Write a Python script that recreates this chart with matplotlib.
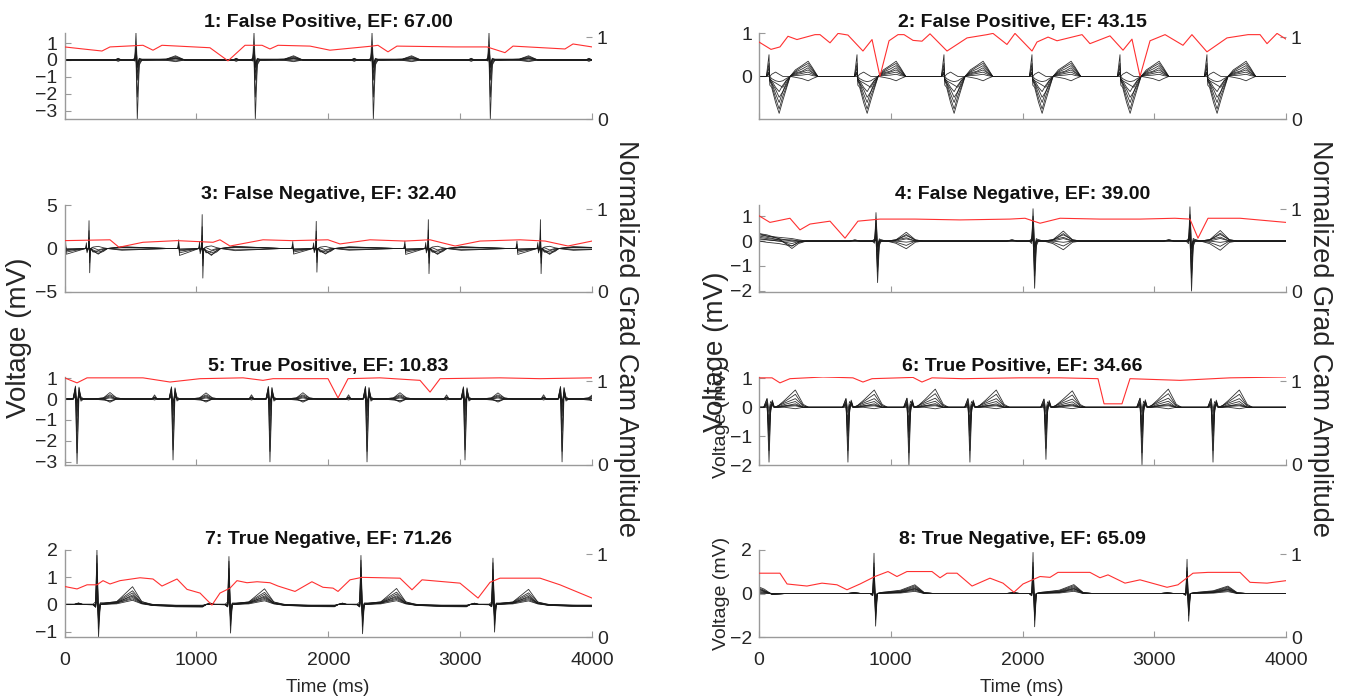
import matplotlib
matplotlib.use('Agg')
import matplotlib.pyplot as plt

plt.rcParams['font.family'] = ['Liberation Sans', 'DejaVu Sans']

# ---------------- data ----------------
titles = ['1: False Positive, EF: 67.00', '2: False Positive, EF: 43.15',
          '3: False Negative, EF: 32.40', '4: False Negative, EF: 39.00',
          '5: True Positive, EF: 10.83', '6: True Positive, EF: 34.66',
          '7: True Negative, EF: 71.26', '8: True Negative, EF: 65.09']
x_ticks = [0, 1000, 2000, 3000, 4000]
left_ylims = [(-3.5, 1.6), (-0.98, 1.0), (-5, 5), (-2.05, 1.45),
              (-3.15, 1.05), (-2.0, 1.05), (-1.2, 2.0), (-2.0, 2.0)]
left_yticks = [[-3, -2, -1, 0, 1], [0, 1], [-5, 0, 5], [-2, -1, 0, 1],
               [-3, -2, -1, 0, 1], [-2, -1, 0, 1], [-1, 0, 1, 2], [-2, 0, 2]]
right_ylim = (0, 1.05)
right_yticks = [0, 1]

# Panel 1
p1_beats = [542, 1437, 2332, 3219, 4112]
p1_scales = [1, 1, 1, 1, 1]
p1_offsets = [-160, -135, -110, -30, -10, 0, 10, 25, 45, 80, 230, 300, 370, 420]
p1_leads = [
    [0, 0.10, 0, 0, -0.05, 1.6, -0.4, 0.10, 0.05, 0.05, 0.05, 0.20, 0, 0],
    [0, 0.05, 0, 0, 0.10, 0.2, -3.5, -0.30, 0, 0, 0.03, 0.10, 0, 0],
    [0, 0.08, 0, 0, -0.05, 0.9, -0.3, 0.05, 0.02, 0.02, 0.04, 0.15, 0, 0],
    [0, -0.05, 0, 0, 0.05, 0.3, -2.2, -0.20, 0, 0, 0.05, 0.25, 0, 0],
    [0, 0.05, 0, 0, 0, 0.5, -1.2, -0.10, 0, 0, 0.02, 0.10, 0, 0],
    [0, -0.08, 0, 0, 0, 0.1, -0.8, 0, 0, 0, -0.02, -0.10, 0, 0],
    [0, 0.03, 0, 0, 0, 0.7, -0.2, 0.05, 0, 0, 0, 0.05, 0, 0],
    [0, 0.0, 0, 0, 0, 0.0, -0.5, 0, 0, 0, 0, -0.05, 0, 0]]
p1_red_t = [0, 140, 284, 345, 595, 671, 739, 1103, 1240, 1369, 1498, 1558, 1619, 1862,
            2013, 2332, 2377, 2453, 2521, 2961, 3204, 3340, 3401, 3795, 3856, 4000]
p1_red_v = [0.88, 0.855, 0.83, 0.88, 0.90, 0.84, 0.90, 0.87, 0.71, 0.90, 0.90, 0.855, 0.90, 0.89,
            0.84, 0.89, 0.90, 0.82, 0.89, 0.88, 0.88, 0.81, 0.89, 0.855, 0.916, 0.88]

# Panel 2
p2_beats = [76, 744, 1404, 2072, 2740, 3400]
p2_scales = [1, 1, 1, 1, 1, 1]
p2_offsets = [-20, 0, 6, 20, 50, 77, 105, 130, 160, 200, 250, 297, 330, 370, 420]
p2_leads = [
    [0, 0.50, -0.20, -0.25, -0.60, -0.85, -0.55, -0.30, 0.0, 0.15, 0.25, 0.35, 0.20, 0.0, 0],
    [0, 0.30, -0.10, -0.20, -0.50, -0.75, -0.45, -0.25, 0.0, 0.12, 0.22, 0.30, 0.17, 0.0, 0],
    [0, 0.20, -0.10, -0.15, -0.40, -0.60, -0.35, -0.20, 0.0, 0.10, 0.17, 0.25, 0.14, 0.0, 0],
    [0, 0.10, -0.05, -0.15, -0.30, -0.48, -0.35, -0.15, 0.0, 0.08, 0.12, 0.20, 0.10, 0.0, 0],
    [0, 0.05, -0.05, -0.10, -0.25, -0.35, -0.20, -0.10, 0.0, 0.06, 0.10, 0.15, 0.08, 0.0, 0],
    [0, 0.00, -0.05, -0.10, -0.15, -0.20, -0.25, -0.10, 0.0, 0.04, 0.07, 0.10, 0.05, 0.0, 0],
    [0, 0.10, 0.00, -0.05, -0.10, -0.12, -0.10, -0.05, 0.0, 0.02, 0.03, 0.05, 0.02, 0.0, 0],
    [0, 0.05, 0.00, 0.05, 0.10, 0.05, 0.00, 0.00, 0.0, -0.02, -0.05, -0.10, -0.05, 0.0, 0]]
p2_red_t = [0, 91, 159, 220, 288, 425, 463, 539, 600, 675, 789, 858, 918, 987, 1055, 1101,
            1169, 1237, 1298, 1427, 1579, 1731, 1776, 1882, 1943, 2072, 2110, 2194, 2262,
            2452, 2512, 2664, 2763, 2831, 2892, 2968, 3082, 3218, 3286, 3400, 3552, 3712,
            3803, 3856, 3932, 4000]
p2_red_v = [0.94, 0.85, 0.88, 1.01, 0.97, 1.03, 1.03, 0.93, 1.045, 1.025, 0.83, 0.97, 0.52,
            0.955, 1.03, 1.03, 0.96, 0.95, 1.04, 0.83, 0.99, 1.03, 1.045, 0.91, 1.045, 0.83,
            0.94, 1.0, 0.955, 1.03, 0.92, 1.015, 0.84, 0.975, 0.52, 0.955, 1.03, 0.90, 1.03,
            0.82, 0.99, 1.03, 1.03, 0.92, 1.045, 0.975]

# Panel 3
p3_beats = [186, 1044, 1909, 2759, 3609]
p3_scales = [0.82, 1.0, 0.8, 0.85, 0.85]
p3_offsets = [-185, -178, -172, -25, -20, -15, -5, 0, 5, 12, 30, 70, 110, 140, 250, 450, 600, 650]
p3_leads = [
    [0, 1.0, -0.8, 0, 0.8, -0.6, 0, 3.9, -3.4, 0, -0.2, -0.5, -0.3, 0, 0.20, 0.10, 0, 0],
    [0, 0.6, -0.5, 0, 0.5, -0.4, 0, 2.5, -2.0, 0, -0.4, -0.7, -0.4, 0, 0.15, 0.10, 0, 0],
    [0, 0.3, -0.3, 0, 0.3, -0.2, 0, 1.5, -1.2, 0, -0.3, -0.8, -0.2, 0, -0.15, -0.10, 0, 0],
    [0, 0.2, -0.2, 0, 0.2, -0.2, 0, 0.8, -1.0, 0, 0.2, 0.3, 0.1, 0, 0.25, 0.10, 0, 0],
    [0, 0.1, -0.1, 0, 0.1, -0.1, 0, 0.5, -0.5, 0, -0.5, -0.3, -0.1, 0, -0.25, -0.10, 0, 0],
    [0, 0.05, -0.05, 0, 0.05, -0.05, 0, 0.3, -0.3, 0, 0.1, -0.2, 0, 0, 0.10, 0.05, 0, 0]]
p3_red_t = [0, 345, 413, 595, 853, 1126, 1179, 1255, 1505, 1725, 1998, 2089, 2317, 2582,
            2772, 2962, 3151, 3454, 3644, 3818, 4000]
p3_red_v = [0.62, 0.63, 0.54, 0.60, 0.62, 0.60, 0.63, 0.555, 0.63, 0.62, 0.63, 0.58, 0.63,
            0.615, 0.63, 0.555, 0.615, 0.63, 0.615, 0.555, 0.615]

# Panel 4
p4_beats = [888, 2080, 3271]
p4_scales = [0.88, 1.0, 1.06]
p4_offsets = [-200, -160, -120, -30, -10, 0, 12, 25, 40, 80, 150, 230, 300, 360]
p4_leads = [
    [0, 0.05, 0, 0, -0.10, 1.3, -0.30, 0.10, 0.05, 0, 0.05, 0.25, 0.05, 0],
    [0, 0.05, 0, 0, 0.10, 0.3, -1.90, -0.20, 0, 0, -0.10, -0.35, -0.05, 0],
    [0, 0.03, 0, 0, 0, 0.8, -1.20, 0, 0.05, 0, 0.05, 0.40, 0.05, 0],
    [0, 0.02, 0, 0, 0, 0.5, -0.80, 0, 0, 0, -0.05, -0.20, 0, 0],
    [0, 0.02, 0, 0, 0, 0.2, -0.50, 0.05, 0, 0, 0.05, 0.15, 0, 0],
    [0, 0, 0, 0, 0, 1.0, -0.20, 0, 0, 0, 0.03, 0.30, 0.03, 0],
    [0, 0, 0, 0, 0, 0.1, -1.40, -0.10, 0, 0, 0, 0.10, 0, 0],
    [0, 0, 0, 0, 0, 0.05, -0.25, 0, 0, 0, 0, -0.05, 0, 0]]
p4_head_t = [0, 60, 150, 250, 300, 360]
p4_head_v = [
    [0.30, 0.25, 0.10, -0.30, -0.10, 0],
    [0.25, 0.20, 0.15, 0.10, 0.05, 0],
    [0.20, 0.15, 0.05, -0.20, -0.05, 0],
    [0.15, 0.10, 0.05, 0.05, 0, 0],
    [0.10, 0.05, 0.0, -0.10, -0.02, 0],
    [0.05, 0.05, 0.0, 0.0, 0, 0],
    [0.0, -0.05, -0.10, -0.20, -0.05, 0],
    [0.30, 0.20, 0.10, 0.0, 0, 0]]
p4_red_t = [0, 83, 235, 311, 387, 539, 653, 751, 918, 1184, 1526, 1905, 2019, 2133, 2285,
            2588, 2892, 3157, 3271, 3332, 3408, 3651, 4000]
p4_red_v = [0.92, 0.84, 0.89, 0.75, 0.82, 0.855, 0.65, 0.855, 0.88, 0.88, 0.87, 0.88, 0.89,
            0.83, 0.89, 0.88, 0.88, 0.89, 0.88, 0.65, 0.89, 0.89, 0.84]

# Panel 5
p5_beats = [95, 823, 1558, 2294, 3037, 3773]
p5_scales = [1.03, 0.97, 1.0, 1.0, 0.97, 1.0]
p5_offsets = [-160, -140, -120, -30, -12, 0, 15, 30, 50, 120, 200, 250, 300, 360]
p5_leads = [
    [0, 0.05, 0, 0, 0.30, -3.0, 0.20, 0, 0, 0, 0, -0.10, 0, 0],
    [0, 0.20, 0, 0, 0.55, -2.5, 0.50, 0, 0, 0, 0.05, 0.30, 0.05, 0],
    [0, 0.10, 0, 0, 0.50, -1.5, 0.55, 0, 0, 0, 0.05, 0.20, 0.05, 0],
    [0, 0.05, 0, 0, 0.40, -0.8, 0.30, -0.10, 0, 0, 0, -0.15, 0, 0],
    [0, -0.05, 0, 0, 0.20, -0.5, 0.20, 0, 0, 0, 0, 0.10, 0, 0],
    [0, 0.10, 0, 0, 0.10, -0.3, 0.40, 0.10, 0, 0, -0.05, -0.08, 0, 0],
    [0, 0, 0, 0, 0.60, -0.2, 0.30, 0, 0, 0, 0.03, 0.15, 0, 0],
    [0, 0.05, 0, 0, 0.15, -0.1, 0.10, 0, 0, 0, 0, 0.05, 0, 0]]
p5_red_t = [0, 95, 171, 595, 800, 1028, 1354, 1505, 1581, 1998, 2074, 2150, 2393, 2696,
            2772, 2848, 3302, 3606, 4000]
p5_red_v = [1.04, 0.98, 1.04, 1.04, 0.99, 1.03, 1.04, 1.01, 1.03, 1.03, 0.80, 1.03, 1.04,
            1.01, 0.87, 1.03, 1.04, 1.03, 1.04]

# Panel 6
p6_beats = [76, 675, 1138, 1601, 2178, 2907, 3446]
p6_scales = [1.0, 1.0, 1.05, 1.0, 0.95, 1.05, 1.0]
p6_offsets = [-40, -15, 0, 12, 25, 40, 70, 120, 200, 260, 300]
p6_leads = [
    [0, 0.20, -1.9, -0.20, 0.20, 0, 0.05, 0.25, 0.60, 0.10, 0],
    [0, 0.30, -1.5, -0.10, 0.25, 0, 0.05, 0.20, 0.45, 0.05, 0],
    [0, 0.15, -1.0, 0.0, 0.20, 0, 0.05, 0.15, 0.30, 0.05, 0],
    [0, 0.10, -0.6, 0.0, 0.10, 0, 0.02, 0.10, 0.20, 0.0, 0],
    [0, 0.05, -0.4, 0.05, 0.10, 0, 0.02, 0.05, 0.12, 0, 0],
    [0, 0.10, -0.2, 0.10, 0.05, 0, 0, 0.03, 0.05, 0, 0],
    [0, 0.30, -0.1, 0.20, 0.10, 0, 0, 0.0, -0.05, 0, 0],
    [0, 0.0, -0.8, -0.10, 0.15, 0, 0, 0.05, 0.08, 0, 0]]
p6_red_t = [0, 99, 159, 235, 486, 713, 789, 858, 1169, 1237, 1313, 1548, 1981, 2285, 2573,
            2619, 2755, 2816, 3195, 3575, 4000]
p6_red_v = [1.04, 1.04, 0.98, 1.03, 1.05, 1.04, 0.99, 1.03, 1.045, 0.99, 1.04, 1.03, 1.04,
            1.04, 1.03, 0.73, 0.73, 1.03, 1.01, 1.04, 1.05]

# Panel 7
p7_beats = [246, 1247, 2248, 3249]
p7_scales = [1.0, 0.88, 0.9, 0.85]
p7_offsets = [-170, -140, -110, -30, -10, 0, 12, 25, 60, 150, 270, 340, 420, 600, 800]
p7_leads = [
    [0, 0.05, 0, -0.02, -0.10, 2.0, -0.9, 0.05, 0.05, 0.10, 0.65, 0.10, -0.02, -0.05, -0.05],
    [0, 0.05, 0, 0, -0.05, 1.5, -0.7, 0.0, 0.05, 0.10, 0.50, 0.10, 0, -0.03, -0.03],
    [0, 0.03, 0, 0, -0.05, 1.0, -1.2, 0, 0.03, 0.08, 0.42, 0.05, 0, -0.04, -0.07],
    [0, 0.03, 0, 0, -0.10, 0.6, -0.5, 0, 0.02, 0.05, 0.35, 0.05, -0.02, -0.07, -0.08],
    [0, 0, 0, 0, 0.10, 0.3, -0.3, 0, 0, 0.05, 0.25, 0.05, -0.03, -0.06, -0.06],
    [0, 0.02, 0, 0, 0, 1.8, -0.3, 0.05, 0.05, 0.08, 0.30, 0.05, -0.04, -0.09, -0.10],
    [0, 0, 0, 0, -0.10, 0.2, -0.6, 0, 0, 0.02, 0.15, 0.02, -0.04, -0.07, -0.08],
    [0, 0.02, 0, 0, 0, 1.2, -0.2, 0, 0.02, 0.05, 0.20, 0.03, -0.03, -0.05, -0.06]]
p7_red_t = [0, 95, 171, 246, 292, 345, 421, 573, 671, 739, 853, 929, 1028, 1118, 1179, 1255,
            1308, 1384, 1460, 1558, 1619, 1748, 1876, 1960, 2036, 2074, 2165, 2256, 2544,
            2635, 2711, 2999, 3136, 3227, 3302, 3606, 3757, 4000]
p7_red_v = [0.61, 0.58, 0.63, 0.63, 0.68, 0.64, 0.68, 0.715, 0.70, 0.615, 0.70, 0.575, 0.53,
            0.385, 0.53, 0.59, 0.68, 0.655, 0.667, 0.655, 0.615, 0.55, 0.667, 0.60, 0.59, 0.55,
            0.69, 0.72, 0.71, 0.57, 0.69, 0.65, 0.47, 0.66, 0.71, 0.71, 0.63, 0.47]

# Panel 8
p8_beats = [873, 2080, 3249]
p8_scales = [1.0, 1.02, 0.85]
p8_offsets = [-200, -150, -100, -30, -10, 0, 12, 25, 60, 200, 310, 380, 450]
p8_leads = [
    [0, 0.05, 0, 0, -0.10, 1.85, -1.5, 0, 0.05, 0.15, 0.40, 0.05, 0],
    [0, 0.03, 0, 0, -0.10, 1.4, -1.2, 0, 0.05, 0.12, 0.35, 0.03, 0],
    [0, 0.03, 0, 0, -0.05, 1.0, -0.9, 0, 0.03, 0.10, 0.30, 0.03, 0],
    [0, 0.02, 0, 0, -0.05, 0.7, -0.6, 0, 0.03, 0.08, 0.25, 0.02, 0],
    [0, 0.02, 0, 0, 0, 0.4, -0.4, 0, 0.02, 0.05, 0.20, 0.02, 0],
    [0, 0.02, 0, 0, 0, 0.2, -1.0, 0, 0.02, 0.05, 0.15, 0.0, 0],
    [0, 0.0, 0, 0, 0, 1.2, -0.3, 0, 0.02, 0.06, 0.22, 0.02, 0],
    [0, 0.0, 0, 0, 0, 0.1, -0.15, 0, 0, 0.02, 0.10, 0, 0]]
p8_head_t = [0, 40, 100, 200]
p8_head_v = [
    [0.30, 0.20, -0.05, 0], [0.25, 0.15, -0.05, 0], [0.20, 0.10, -0.03, 0],
    [0.15, 0.08, -0.02, 0], [0.10, 0.05, 0, 0], [0.05, 0.03, 0, 0],
    [0.0, 0.0, 0, 0], [0.20, 0.12, -0.03, 0]]
p8_red_t = [0, 159, 213, 364, 478, 592, 668, 767, 880, 979, 1047, 1123, 1313, 1374, 1427,
            1503, 1617, 1753, 1852, 1935, 2004, 2133, 2209, 2269, 2512, 2588, 2649, 2778,
            2892, 3097, 3180, 3294, 3408, 3651, 3727, 3856, 4000]
p8_red_v = [0.77, 0.77, 0.64, 0.615, 0.65, 0.63, 0.57, 0.64, 0.73, 0.79, 0.73, 0.79, 0.79,
            0.715, 0.77, 0.77, 0.615, 0.71, 0.65, 0.54, 0.64, 0.73, 0.72, 0.78, 0.78, 0.715,
            0.75, 0.65, 0.69, 0.60, 0.63, 0.77, 0.78, 0.78, 0.66, 0.65, 0.68]

panels = [
    (p1_beats, p1_scales, p1_offsets, p1_leads, None, None, p1_red_t, p1_red_v),
    (p2_beats, p2_scales, p2_offsets, p2_leads, None, None, p2_red_t, p2_red_v),
    (p3_beats, p3_scales, p3_offsets, p3_leads, None, None, p3_red_t, p3_red_v),
    (p4_beats, p4_scales, p4_offsets, p4_leads, p4_head_t, p4_head_v, p4_red_t, p4_red_v),
    (p5_beats, p5_scales, p5_offsets, p5_leads, None, None, p5_red_t, p5_red_v),
    (p6_beats, p6_scales, p6_offsets, p6_leads, None, None, p6_red_t, p6_red_v),
    (p7_beats, p7_scales, p7_offsets, p7_leads, None, None, p7_red_t, p7_red_v),
    (p8_beats, p8_scales, p8_offsets, p8_leads, p8_head_t, p8_head_v, p8_red_t, p8_red_v),
]


def lead_series(beats, scales, offsets, amps, head_t, head_v):
    t, v = [], []
    if head_t is None:
        t.append(0); v.append(0)
    else:
        t += list(head_t); v += list(head_v)
    for b, s in zip(beats, scales):
        for o, a in zip(offsets, amps):
            t.append(b + o); v.append(a * s)
    if t[-1] < 4000:
        t.append(4000); v.append(0)
    return t, v


# ---------------- layout ----------------
W, H = 1348, 697
fig = plt.figure(figsize=(W / 100, H / 100), dpi=100)
col_x = [64.5, 759]
col_w = [527.5, 527]
row_top = [33, 205, 377, 550]
row_bot = [119, 292, 465, 637]
spine_c = '#9a9a9a'
text_c = '#262626'

for i, (beats, scales, offsets, leads, head_t, head_v, red_t, red_v) in enumerate(panels):
    r, c = i // 2, i % 2
    ax = fig.add_axes([col_x[c] / W, 1 - row_bot[r] / H, col_w[c] / W, (row_bot[r] - row_top[r]) / H])
    for k, amps in enumerate(leads):
        hv = head_v[k] if head_v is not None else None
        t, v = lead_series(beats, scales, offsets, amps, head_t, hv)
        ax.plot(t, v, color='#1a1a1a', lw=0.6, alpha=0.9)
    ax.set_xlim(0, 4000)
    ax.set_ylim(*left_ylims[i])
    ax.set_yticks(left_yticks[i])
    ax.set_xticks(x_ticks)
    for s in ['top', 'right']:
        ax.spines[s].set_visible(False)
    for s in ['left', 'bottom']:
        ax.spines[s].set_color(spine_c)
        ax.spines[s].set_linewidth(1.0)
    ax.tick_params(axis='both', direction='in', length=4, color=spine_c,
                   labelsize=14, labelcolor=text_c)
    ax.tick_params(axis='y', pad=5)
    ax.tick_params(axis='x', pad=11)
    if r < 3:
        ax.tick_params(axis='x', labelbottom=False)
    ax.set_title(titles[i], fontsize=14, fontweight='bold', pad=4, color='#111111')

    ax2 = ax.twinx()
    ax2.plot(red_t, red_v, color='#ff3030', lw=0.8)
    ax2.set_ylim(*right_ylim)
    ax2.set_yticks(right_yticks)
    for s in ax2.spines.values():
        s.set_visible(False)
    ax2.tick_params(axis='y', direction='in', length=4, color=spine_c,
                    labelsize=14, labelcolor=text_c, pad=3.5)
    ax2.set_xlim(0, 4000)

# labels
fig.text(19 / W, 1 - 338 / H, 'Voltage (mV)', rotation=90, ha='center', va='center',
         fontsize=20, color=text_c)
fig.text(716 / W, 1 - 352 / H, 'Voltage (mV)', rotation=90, ha='center', va='center',
         fontsize=20, color=text_c)
fig.text(626 / W, 1 - 338 / H, 'Normalized Grad Cam Amplitude', rotation=270, ha='center',
         va='center', fontsize=19.5, color=text_c)
fig.text(1320 / W, 1 - 338 / H, 'Normalized Grad Cam Amplitude', rotation=270, ha='center',
         va='center', fontsize=19.5, color=text_c)
fig.text(722 / W, 1 - 421 / H, 'Voltage (mV)', rotation=90, ha='center', va='center',
         fontsize=14, color=text_c)
fig.text(722 / W, 1 - 593 / H, 'Voltage (mV)', rotation=90, ha='center', va='center',
         fontsize=14, color=text_c)
fig.text(328 / W, 1 - 688 / H, 'Time (ms)', ha='center', va='center', fontsize=13.5, color=text_c)
fig.text(1022 / W, 1 - 688 / H, 'Time (ms)', ha='center', va='center', fontsize=13.5, color=text_c)

fig.savefig('out.png', dpi=100, facecolor='white')
